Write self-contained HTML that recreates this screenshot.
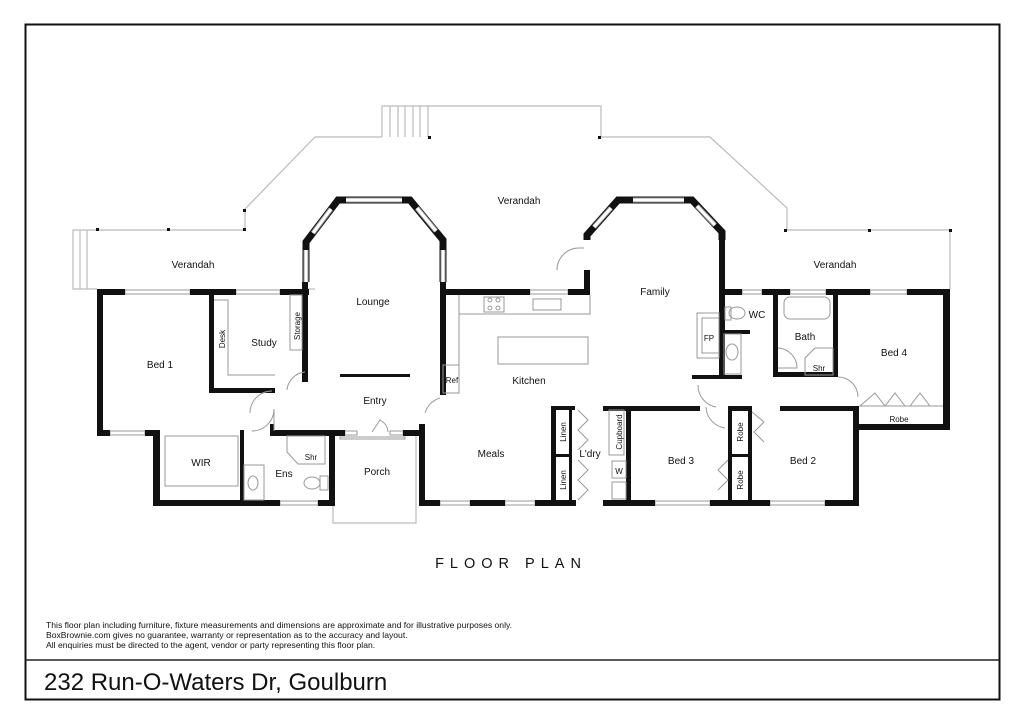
<!DOCTYPE html>
<html><head><meta charset="utf-8"><style>
html,body{margin:0;padding:0;background:#fff}
svg{display:block}
text{font-family:"Liberation Sans",Arial,sans-serif;fill:#111}
</style></head><body>
<svg width="1024" height="724" viewBox="0 0 1024 724" xmlns="http://www.w3.org/2000/svg">
<rect x="25.5" y="24.5" width="974" height="675" fill="none" stroke="#111" stroke-width="2"/>
<line x1="25" y1="660" x2="999" y2="660" stroke="#222" stroke-width="1.5"/>

<g stroke="#bbb" stroke-width="1.2" fill="none">
<polyline points="315,289 303,289"/>
<polyline points="97,289 73,289 73,230 245,230 245,209 315,137 382,137"/>
<line x1="80" y1="230" x2="80" y2="289"/><line x1="87" y1="230" x2="87" y2="289"/>
<polyline points="382,137 382,106 601,106 601,137 710,137 787,208 787,230 950,230 950,289"/>
<line x1="390" y1="106" x2="390" y2="137"/><line x1="398" y1="106" x2="398" y2="137"/>
<line x1="405" y1="106" x2="405" y2="137"/><line x1="413" y1="106" x2="413" y2="137"/>
<line x1="420" y1="106" x2="420" y2="137"/><line x1="428" y1="106" x2="428" y2="137"/>
<polyline points="333,436 333,523 416,523 416,436"/>
</g>
<g fill="#111">
<rect x="96" y="228" width="3" height="3"/><rect x="167" y="228" width="3" height="3"/><rect x="243" y="228" width="3" height="3"/><rect x="243" y="209" width="3" height="3"/>
<rect x="428" y="136" width="3" height="3"/><rect x="598" y="136" width="3" height="3"/>
<rect x="784" y="229" width="3" height="3"/><rect x="868" y="229" width="3" height="3"/><rect x="949" y="229" width="3" height="3"/>
</g>

<g stroke="#999" stroke-width="1" fill="none">
<rect x="125" y="290" width="65" height="4"/><rect x="236" y="290" width="44" height="4"/>
<rect x="110" y="431" width="35" height="4"/><rect x="280" y="501" width="38" height="4"/>
<rect x="440" y="501" width="30" height="4"/><rect x="505" y="501" width="30" height="4"/>
<rect x="655" y="501" width="55" height="4"/><rect x="770" y="501" width="55" height="4"/>
<rect x="530" y="290" width="38" height="4"/>
<rect x="742" y="290" width="20" height="4"/><rect x="790" y="290" width="36" height="4"/><rect x="870" y="290" width="37" height="4"/>
<rect x="345" y="431" width="12" height="4"/><rect x="390" y="431" width="13" height="4"/>
</g>

<g fill="none" stroke-linejoin="miter">
<polyline points="306,282 306,242 338,200 410,200 443,240 443,282" stroke="#111" stroke-width="7"/>
<polyline points="587,240 587,235 618,200 692,200 722,232 722,240" stroke="#111" stroke-width="7"/>
<g stroke="#999" stroke-width="5">
<line x1="306" y1="250" x2="306" y2="282"/><line x1="313" y1="233" x2="331" y2="209"/>
<line x1="346" y1="200" x2="402" y2="200"/><line x1="417" y1="208" x2="436" y2="231"/>
<line x1="443" y1="250" x2="443" y2="282"/>
<line x1="594" y1="227" x2="611" y2="208"/>
<line x1="633" y1="200" x2="684" y2="200"/><line x1="697" y1="206" x2="715" y2="225"/>
</g>
<g stroke="#fff" stroke-width="3">
<line x1="306" y1="250" x2="306" y2="282"/><line x1="313" y1="233" x2="331" y2="209"/>
<line x1="346" y1="200" x2="402" y2="200"/><line x1="417" y1="208" x2="436" y2="231"/>
<line x1="443" y1="250" x2="443" y2="282"/>
<line x1="594" y1="227" x2="611" y2="208"/>
<line x1="633" y1="200" x2="684" y2="200"/><line x1="697" y1="206" x2="715" y2="225"/>
</g>
</g>

<g fill="#111">
<rect x="97" y="289" width="6" height="147"/>
<rect x="97" y="289" width="28" height="6"/><rect x="190" y="289" width="46" height="6"/><rect x="280" y="289" width="29" height="6"/>
<rect x="97" y="430" width="13" height="6"/><rect x="145" y="430" width="15" height="6"/>
<rect x="153" y="430" width="7" height="76"/>
<rect x="153" y="500" width="127" height="6"/><rect x="318" y="500" width="17" height="6"/>
<rect x="240" y="430" width="4" height="72"/>
<rect x="329" y="430" width="6" height="76"/>
<rect x="270" y="430" width="75" height="6"/><rect x="403" y="430" width="22" height="6"/>
<rect x="270" y="424" width="4" height="12"/>
<rect x="209" y="295" width="5" height="98"/><rect x="209" y="388" width="66" height="5"/>
<rect x="302" y="282" width="6" height="100"/>
<rect x="440" y="282" width="6" height="113"/>
<rect x="440" y="289" width="90" height="6"/><rect x="568" y="289" width="22" height="6"/>
<rect x="584" y="270" width="6" height="25"/>
<rect x="340" y="374" width="70" height="3"/>
<rect x="719" y="230" width="6" height="148"/>
<rect x="692" y="375" width="50" height="4"/>
<rect x="720" y="289" width="22" height="6"/><rect x="762" y="289" width="28" height="6"/><rect x="826" y="289" width="44" height="6"/><rect x="907" y="289" width="43" height="6"/>
<rect x="722" y="330" width="28" height="4"/>
<rect x="773" y="295" width="5" height="82"/><rect x="773" y="372" width="64" height="5"/>
<rect x="833" y="295" width="5" height="82"/>
<rect x="943" y="289" width="7" height="141"/>
<rect x="853" y="424" width="97" height="6"/>
<rect x="853" y="406" width="6" height="100"/>
<rect x="419" y="424" width="6" height="82"/>
<rect x="419" y="500" width="21" height="6"/><rect x="470" y="500" width="35" height="6"/><rect x="535" y="500" width="41" height="6"/>
<rect x="603" y="500" width="52" height="6"/><rect x="710" y="500" width="60" height="6"/><rect x="825" y="500" width="34" height="6"/>
<rect x="551" y="406" width="5" height="100"/>
<rect x="551" y="406" width="24" height="4"/><rect x="603" y="406" width="97" height="5"/><rect x="728" y="406" width="24" height="5"/><rect x="780" y="406" width="79" height="5"/>
<rect x="626" y="406" width="5" height="100"/>
<rect x="728" y="406" width="4" height="100"/><rect x="748" y="406" width="4" height="100"/>
<rect x="728" y="454" width="24" height="3"/>
<rect x="551" y="454" width="20" height="3"/>
<rect x="569" y="406" width="3" height="100"/>
</g>

<g stroke="#999" stroke-width="1" fill="none">
<rect x="340" y="437" width="65" height="2"/>
<polyline points="214,300 228,300 228,375 275,375"/>
<rect x="290" y="295" width="12" height="55"/>
<rect x="165" y="436" width="73" height="50"/>
<rect x="244" y="465" width="20" height="35"/><ellipse cx="253" cy="483" rx="5" ry="7"/>
<polygon points="287,436 325,436 325,464 298,464 287,452"/>
<ellipse cx="312" cy="483" rx="8" ry="6"/><rect x="320" y="476" width="8" height="14"/>
<path d="M274 409 A22 22 0 0 1 252 431 M274 431 L274 409"/>
<path d="M250 413 A22 22 0 0 1 272 391"/>
<path d="M287 390 A20 20 0 0 1 305 372"/>
<path d="M425 413 A22 22 0 0 1 440 398"/>
<polyline points="459,295 459,314 590,314 590,295"/>
<rect x="484" y="297" width="20" height="15"/><rect x="533" y="299" width="28" height="11"/>
<circle cx="490" cy="300" r="2"/><circle cx="498" cy="300" r="2"/><circle cx="490" cy="308" r="2"/><circle cx="498" cy="308" r="2"/>
<rect x="498" y="337" width="90" height="27"/>
<rect x="443" y="365" width="16" height="28"/><line x1="459" y1="314" x2="459" y2="365"/>
<path d="M557 270 A22 22 0 0 1 579 248 L584 248"/>
<rect x="697" y="313" width="22" height="45"/><rect x="702" y="318" width="17" height="35"/>
<ellipse cx="737" cy="313" rx="8" ry="6"/><rect x="725" y="307" width="6" height="13"/>
<ellipse cx="732" cy="352" rx="6" ry="8"/><rect x="724" y="334" width="17" height="40"/>
<rect x="784" y="297" width="46" height="22" rx="6"/>
<polygon points="805,375 805,358 815,348 833,348 833,375"/>
<path d="M778 348 A20 20 0 0 1 797 368 L778 368"/>
<path d="M716 407 A22 22 0 0 1 698 385"/><path d="M706 407 A22 22 0 0 0 725 428"/>
<path d="M838 377 A20 20 0 0 1 858 397"/>
<polyline points="860,406 875,393 885,406 895,393 905,406"/><polyline points="910,406 920,393 930,406 940,406"/>
<line x1="859" y1="406" x2="943" y2="406"/>
<polyline points="578,410 588,420 578,430 588,440 578,450"/><polyline points="578,460 588,470 578,480 588,490 578,500"/>
<rect x="609" y="410" width="15" height="45"/><rect x="612" y="461" width="14" height="17"/><rect x="612" y="482" width="14" height="17"/>
<polyline points="752,412 764,422 754,432 764,442"/><polyline points="728,460 718,470 728,480 718,490"/>
<path d="M372 432 L380 420 A14 14 0 0 1 388 432"/>
</g>

<g font-size="10" text-anchor="middle">
<text x="193" y="268">Verandah</text>
<text x="519" y="204">Verandah</text>
<text x="835" y="268">Verandah</text>
<text x="373" y="305">Lounge</text>
<text x="655" y="295">Family</text>
<text x="264" y="346">Study</text>
<text x="160" y="368">Bed 1</text>
<text x="529" y="384">Kitchen</text>
<text x="375" y="404">Entry</text>
<text x="201" y="466">WIR</text>
<text x="284" y="477">Ens</text>
<text x="377" y="475">Porch</text>
<text x="491" y="457">Meals</text>
<text x="590" y="457">L'dry</text>
<text x="681" y="464">Bed 3</text>
<text x="803" y="464">Bed 2</text>
<text x="894" y="356">Bed 4</text>
<text x="805" y="340">Bath</text>
<text x="757" y="318">WC</text>
</g>
<g font-size="8" text-anchor="middle">
<text x="311" y="460">Shr</text><text x="819" y="371">Shr</text>
<text x="709" y="341">FP</text><text x="452" y="383">Ref</text>
<text x="899" y="422">Robe</text><text x="619" y="474">W</text>
<text transform="translate(225,339) rotate(-90)">Desk</text>
<text transform="translate(300,326) rotate(-90)">Storage</text>
<text transform="translate(566,432) rotate(-90)">Linen</text>
<text transform="translate(566,480) rotate(-90)">Linen</text>
<text transform="translate(622,432) rotate(-90)">Cupboard</text>
<text transform="translate(743,432) rotate(-90)">Robe</text>
<text transform="translate(743,480) rotate(-90)">Robe</text>
</g>
<text x="511" y="568" font-size="14.5" text-anchor="middle" letter-spacing="6">FLOOR PLAN</text>
<g font-size="8.6">
<text x="46" y="628">This floor plan including furniture, fixture measurements and dimensions are approximate and for illustrative purposes only.</text>
<text x="46" y="638">BoxBrownie.com gives no guarantee, warranty or representation as to the accuracy and layout.</text>
<text x="46" y="648">All enquiries must be directed to the agent, vendor or party representing this floor plan.</text>
</g>
<text x="44" y="690" font-size="24">232 Run-O-Waters Dr, Goulburn</text>
</svg>
</body></html>
